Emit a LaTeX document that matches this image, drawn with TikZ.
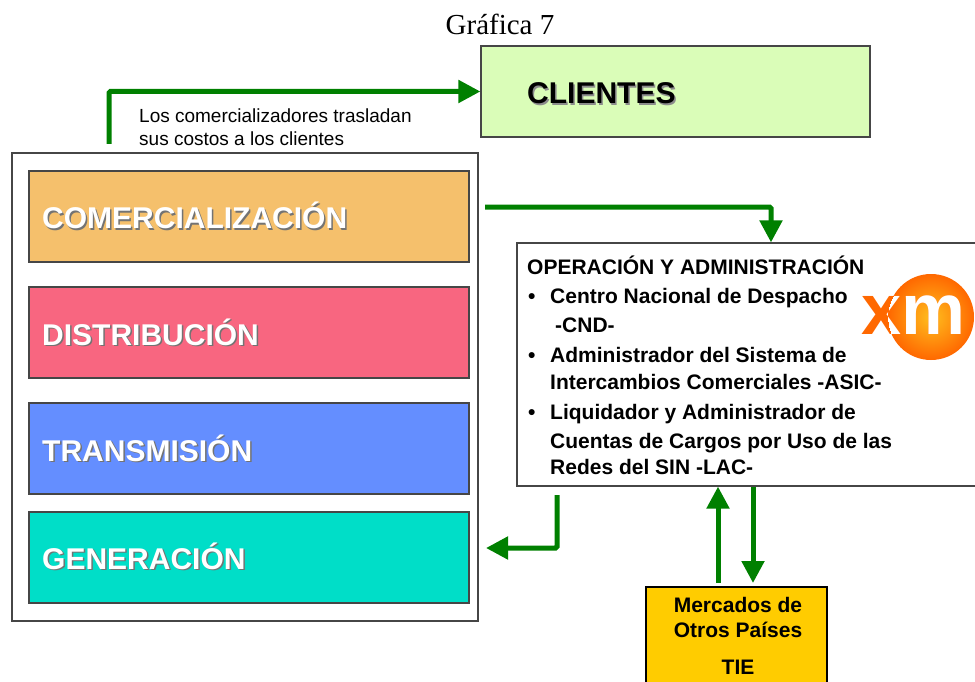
\documentclass[tikz,border=0pt]{standalone}
\usepackage{fontspec}
\setmainfont{Liberation Sans}
\newfontfamily\timesf{Liberation Serif}
\usetikzlibrary{arrows.meta,calc}
\definecolor{cgreen}{RGB}{0,128,0}
\definecolor{ccomer}{RGB}{245,192,108}
\definecolor{cdist}{RGB}{248,102,128}
\definecolor{ctrans}{RGB}{100,142,255}
\definecolor{cgen}{RGB}{0,222,200}
\definecolor{cclient}{RGB}{218,253,184}
\definecolor{ctie}{RGB}{255,204,0}
\definecolor{xmorange}{RGB}{255,104,0}
\definecolor{xmlight}{RGB}{255,190,30}
\definecolor{boxline}{RGB}{70,70,70}
\newcommand\shadowlabel[4]{%
  \node[#4, text=black!55] (#1s) at ($(#2)+(1.5,1.5)$) {#3};
  \node[#4, text=white] (#1) at (#2) {#3};
}
\begin{document}
\begin{tikzpicture}[x=1pt,y=-1pt,
  layer/.style={draw=boxline, line width=1.2pt, minimum width=440pt, minimum height=91pt, inner sep=0pt},
  layertext/.style={font=\bfseries\fontsize{30}{36}\selectfont, anchor=base west, inner sep=0pt},
  optext/.style={font=\bfseries\fontsize{21}{25}\selectfont, anchor=base west, inner sep=0pt},
  tietext/.style={font=\bfseries\fontsize{21}{25}\selectfont, anchor=base, inner sep=0pt},
  notetext/.style={font=\fontsize{19}{23}\selectfont, anchor=base west, inner sep=0pt},
  logotext/.style={font=\bfseries\fontsize{72}{80}\selectfont, anchor=base west, inner sep=0pt},
  flow/.style={draw=cgreen, line width=5pt, rounded corners=1.5pt, -{Triangle[length=22pt,width=22pt]}},
]
\useasboundingbox (0,0) rectangle (975,682);
\fill[white] (0,0) rectangle (975,682);

% title
\node[font=\timesf\fontsize{29}{34}\selectfont, anchor=base, inner sep=0pt] (title) at (500,35) {Gráfica 7};

% outer frame
\node[draw=boxline, line width=1.2pt, minimum width=466pt, minimum height=468pt, inner sep=0pt] (frame) at (245,387) {};

% layers
\node[layer, fill=ccomer] (comer) at (249,216.5) {};
\node[layer, fill=cdist] (dist) at (249,332.5) {};
\node[layer, fill=ctrans] (trans) at (249,448.5) {};
\node[layer, fill=cgen] (gen) at (249,557.5) {};
\coordinate (tcomer) at (42,229);
\coordinate (tdist) at (42,345);
\coordinate (ttrans) at (42,461);
\coordinate (tgen) at (42,569);
\shadowlabel{lcomer}{tcomer}{COMERCIALIZACIÓN}{layertext}
\shadowlabel{ldist}{tdist}{DISTRIBUCIÓN}{layertext}
\shadowlabel{ltrans}{ttrans}{TRANSMISIÓN}{layertext}
\shadowlabel{lgen}{tgen}{GENERACIÓN}{layertext}

% clientes
\node[draw=boxline, line width=1.2pt, fill=cclient, minimum width=389pt, minimum height=91pt, inner sep=0pt] (clientes) at (675.5,91.5) {};
\node[layertext, text=black!45] (lclis) at (528.5,105.5) {CLIENTES};
\node[layertext, text=black] (lcli) at (527,104) {CLIENTES};

% note
\node[notetext] (note1) at (139,123) {Los comercializadores trasladan};
\node[notetext] (note2) at (139,146) {sus costos a los clientes};

% operation box
\node[draw=boxline, line width=1.2pt, fill=white, minimum width=508pt, minimum height=243pt, inner sep=0pt] (op) at (771,364.5) {};
\node[optext] (oph) at (527,274) {OPERACIÓN Y ADMINISTRACIÓN};
\node[optext] (b1) at (528,303) {•};
\node[optext] (op1) at (550,303) {Centro Nacional de Despacho};
\node[optext] (op2) at (555,332) {-CND-};
\node[optext] (b2) at (528,362) {•};
\node[optext] (op3) at (550,362) {Administrador del Sistema de};
\node[optext] (op4) at (550,389) {Intercambios Comerciales -ASIC-};
\node[optext] (b3) at (528,419) {•};
\node[optext] (op5) at (550,419) {Liquidador y Administrador de};
\node[optext] (op6) at (550,448) {Cuentas de Cargos por Uso de las};
\node[optext] (op7) at (550,474) {Redes del SIN -LAC-};

% xm logo
\begin{scope}
  \shade[inner color=xmlight, outer color=xmorange] (931,317) circle (43);
  \node[logotext, text=xmorange] (xma) at (861,334) {xm};
  \clip (931,317) circle (43);
  \node[logotext, text=white] (xmb) at (861,334) {xm};
\end{scope}

% TIE box
\node[draw=black, line width=1.2pt, fill=ctie, minimum width=181pt, minimum height=133pt, inner sep=0pt] (tie) at (736.5,653.5) {};
\node[tietext] (tie1) at (738,612) {Mercados de};
\node[tietext] (tie2) at (738,637) {Otros Países};
\node[tietext] (tie3) at (738,674) {TIE};

% connectors
\coordinate (a1s) at (109,144);
\draw[flow] (a1s) |- (clientes.west);
\coordinate (a2s) at (485,207);
\draw[flow] (a2s) -| (op.north);
\coordinate (a3s) at (557,495);
\coordinate (a3e) at (486,548);
\draw[flow] (a3s) |- (a3e);
\coordinate (upb) at (718,583);
\draw[flow] (upb) -- (upb |- op.south);
\coordinate (dnb) at (753,583);
\draw[flow] (dnb |- op.south) -- (dnb);
\end{tikzpicture}
\end{document}
